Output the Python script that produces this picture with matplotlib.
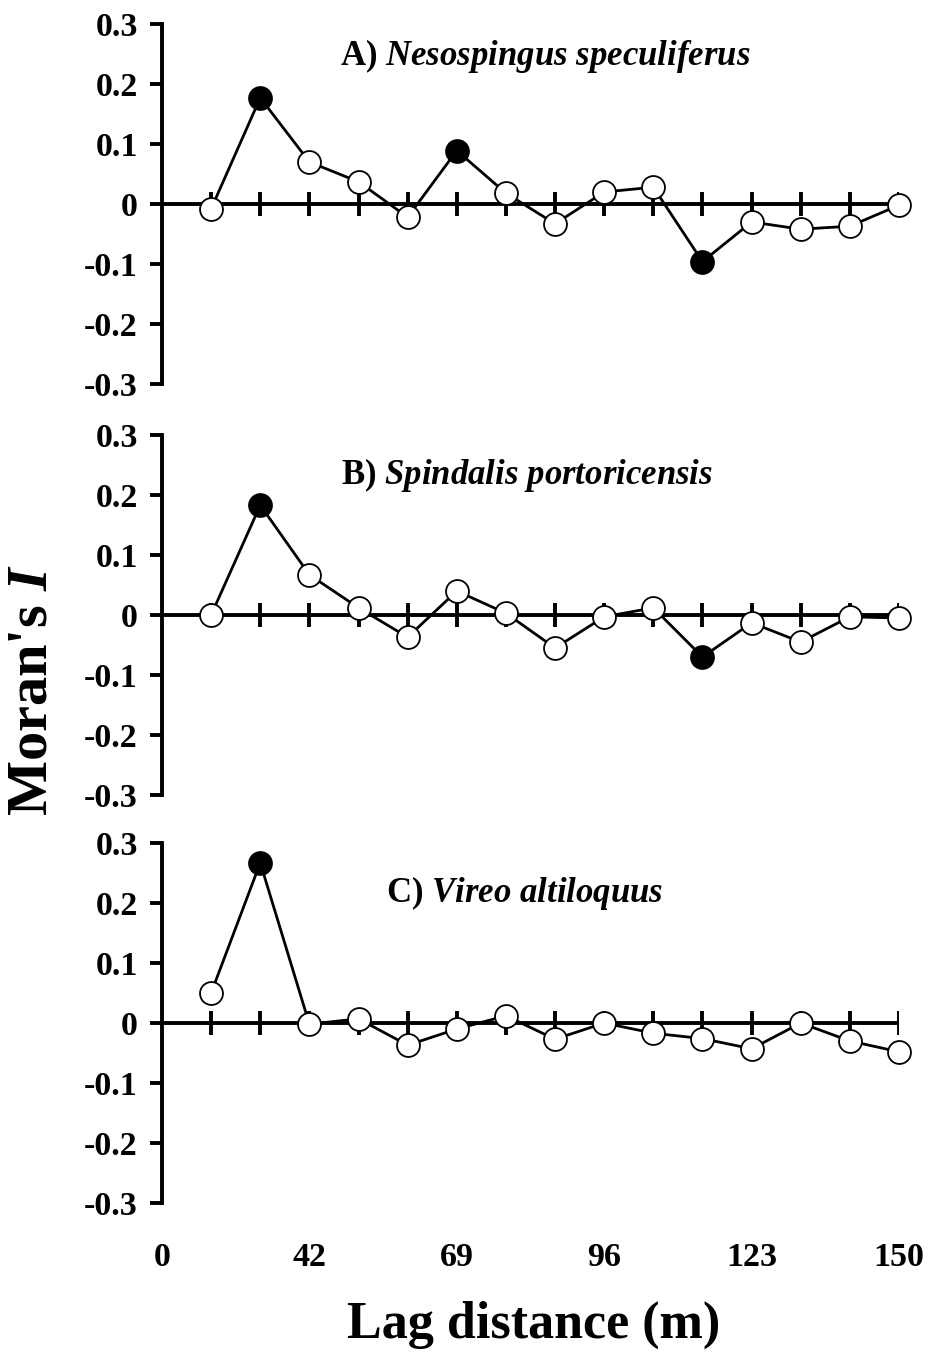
"""Correlograms of Moran's I vs lag distance for three bird species."""

import matplotlib
matplotlib.use("Agg")
import matplotlib.pyplot as plt
import numpy as np

plt.rcParams["font.family"] = ["Liberation Serif", "DejaVu Serif"]
plt.rcParams["font.weight"] = "bold"
plt.rcParams["mathtext.fontset"] = "custom"
plt.rcParams["mathtext.rm"] = "Liberation Serif:bold"
plt.rcParams["mathtext.it"] = "Liberation Serif:italic:bold"
plt.rcParams["mathtext.bf"] = "Liberation Serif:bold"

# distance classes 1..15 (evenly spaced on the plot)
lag_class = np.arange(1, 16)
xtick_pos = [0, 3, 6, 9, 12, 15]
xtick_labels = ["0", "42", "69", "96", "123", "150"]

ytick_vals = [0.3, 0.2, 0.1, 0.0, -0.1, -0.2, -0.3]
ytick_labels = ["0.3", "0.2", "0.1", "0", "-0.1", "-0.2", "-0.3"]

moran_a = [-0.008, 0.177, 0.070, 0.037, -0.022, 0.089, 0.018, -0.033,
           0.020, 0.028, -0.096, -0.030, -0.042, -0.037, -0.002]
moran_b = [0.000, 0.183, 0.067, 0.012, -0.037, 0.040, 0.003, -0.055,
           -0.003, 0.012, -0.070, -0.013, -0.045, -0.003, -0.005]
moran_c = [0.050, 0.267, -0.002, 0.007, -0.037, -0.010, 0.012, -0.027,
           0.000, -0.017, -0.026, -0.043, 0.000, -0.030, -0.048]

# significant classes (filled symbols)
signif_a = [2, 6, 11]
signif_b = [2, 11]
signif_c = [2]

panels = [
    (r"A) $Nesospingus\ speculiferus$", moran_a, signif_a, (7.8, 0.247)),
    (r"B) $Spindalis\ portoricensis$", moran_b, signif_b, (7.43, 0.233)),
    (r"C) $Vireo\ altiloquus$", moran_c, signif_c, (7.39, 0.217)),
]

W, H = 931, 1354
fig = plt.figure(figsize=(W / 100, H / 100), dpi=100)

left = 162 / W
width = (899 - 162) / W
tops = [24, 435, 843]
ax_h = 360
lw_axis = 2.8

for k, (title, vals, sig, tpos) in enumerate(panels):
    top = tops[k]
    ax = fig.add_axes([left, 1 - (top + ax_h) / H, width, ax_h / H])
    vals = np.array(vals)
    filled = np.isin(lag_class, sig)

    ax.axhline(0, xmin=0, xmax=1, color="black", lw=lw_axis, zorder=1)
    ax.vlines(lag_class, -0.02, 0.02, color="black", lw=lw_axis, zorder=1)
    ax.plot(lag_class, vals, color="black", lw=2.0, zorder=2, clip_on=False)
    ax.plot(lag_class[~filled], vals[~filled], "o", ms=16.5, mfc="white",
            mec="black", mew=1.3, zorder=3, clip_on=False)
    ax.plot(lag_class[filled], vals[filled], "o", ms=16.5, mfc="black",
            mec="black", mew=1.3, zorder=3, clip_on=False)

    ax.text(tpos[0], tpos[1], title, ha="center", va="center",
            fontsize=25, fontweight="bold")

    ax.set_xlim(0, 15)
    ax.set_ylim(-0.3, 0.3)
    for side in ["top", "right", "bottom"]:
        ax.spines[side].set_visible(False)
    ax.spines["left"].set_linewidth(lw_axis)
    ax.set_yticks(ytick_vals)
    ax.set_yticklabels(ytick_labels, fontsize=24.5, fontweight="bold")
    ax.tick_params(axis="y", direction="out", length=8.5, width=lw_axis, pad=9)
    if k < 2:
        ax.set_xticks([])
    else:
        ax.set_xticks(xtick_pos)
        ax.set_xticklabels(xtick_labels, fontsize=24.5, fontweight="bold")
        ax.tick_params(axis="x", length=0, pad=28)
    ax.set_facecolor("none")

fig.text(534 / W, 1 - 1325 / H, "Lag distance (m)", ha="center", va="center",
         fontsize=37.5, fontweight="bold")
fig.text(33 / W, 1 - 690 / H, r"Moran's $I$", ha="center", va="center",
         rotation=90, fontsize=42, fontweight="bold")

fig.savefig("out.png", dpi=100)
